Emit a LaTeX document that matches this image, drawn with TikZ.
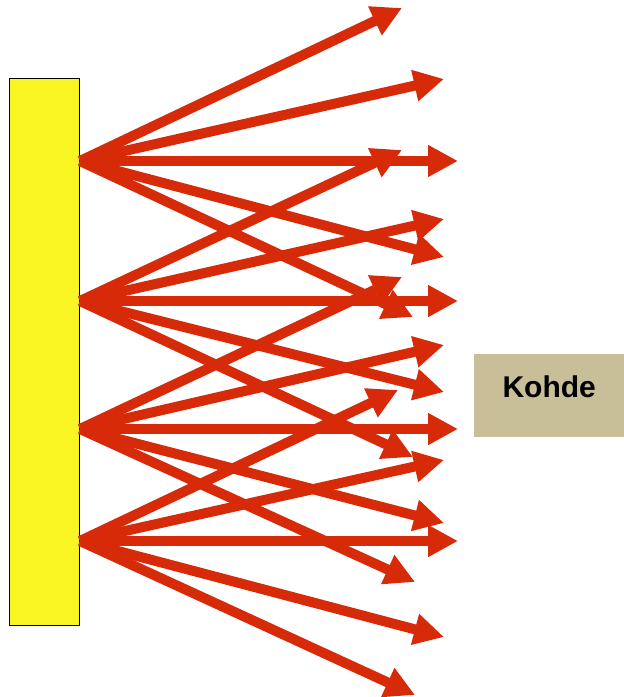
\documentclass[tikz,border=0pt]{standalone}
\usepackage{fontspec}
\setmainfont{Liberation Sans}
\usetikzlibrary{arrows.meta}
\definecolor{rayred}{RGB}{214,42,8}
\definecolor{panel}{RGB}{248,245,34}
\definecolor{khaki}{RGB}{200,190,152}
\tikzset{
  ray/.style={draw=rayred, line width=10pt, -{Triangle[length=30pt,width=30pt]}},
  src/.style={draw=black, line width=1pt, fill=panel},
  target/.style={fill=khaki, inner sep=0pt, minimum width=150pt, minimum height=83pt,
    font=\bfseries\fontsize{30}{30}\selectfont, text height=21.5pt, text depth=18.5pt}
}
\begin{document}
\begin{tikzpicture}[x=1pt,y=-1pt]
\useasboundingbox (0,0) rectangle (624,697);
\node[src, inner sep=0pt, minimum width=70pt, minimum height=547pt, anchor=north west] (panel) at (9,78) {};
\node[target, anchor=north west] (kohde) at (474,354) {Kohde};
% sources
\coordinate (A) at (80,161);
\coordinate (B) at (80,301);
\coordinate (C) at (80,429);
\coordinate (D) at (80,541);
% tips
\coordinate (a1) at (402,8);   \coordinate (a2) at (444,79);  \coordinate (a3) at (458,161);
\coordinate (a4) at (444,257); \coordinate (a5) at (413,317);
\coordinate (b1) at (402,150); \coordinate (b2) at (444,219); \coordinate (b3) at (458,301);
\coordinate (b4) at (444,392); \coordinate (b5) at (413,457);
\coordinate (c1) at (402,277); \coordinate (c2) at (444,345); \coordinate (c3) at (458,429);
\coordinate (c4) at (444,523); \coordinate (c5) at (415,582);
\coordinate (d1) at (398,390); \coordinate (d2) at (444,460); \coordinate (d3) at (458,541);
\coordinate (d4) at (444,637); \coordinate (d5) at (415,695);
\foreach \s/\t in {A/a,B/b,C/c,D/d}{
  \foreach \i in {1,...,5}{
    \draw[ray] (\s) -- (\t\i);
  }
}
\end{tikzpicture}
\end{document}
